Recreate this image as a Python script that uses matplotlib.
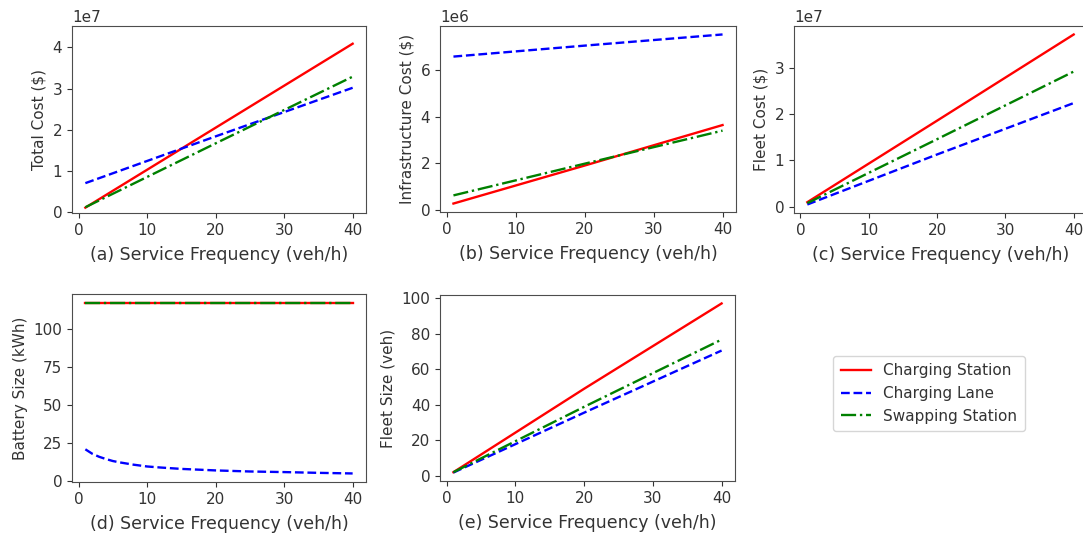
import numpy as np
import matplotlib
matplotlib.use('Agg')
import matplotlib.pyplot as plt

# service frequency (veh/h) where values were read
freq = [1, 20, 40]

# (a) total cost ($)
total_cs = [0.11e7, 2.05e7, 4.09e7]
total_cl = [0.705e7, 1.84e7, 3.02e7]
total_ss = [0.12e7, 1.67e7, 3.29e7]

# (b) infrastructure cost ($)
infra_cs = [0.27e6, 1.90e6, 3.64e6]
infra_cl = [6.58e6, 7.05e6, 7.53e6]
infra_ss = [0.62e6, 1.98e6, 3.40e6]

# (c) fleet cost ($)
fleet_cs = [0.10e7, 1.86e7, 3.72e7]
fleet_cl = [0.05e7, 1.13e7, 2.24e7]
fleet_ss = [0.08e7, 1.46e7, 2.92e7]

# (d) battery size (kWh)
batt_freq = [1, 2, 3, 4, 5, 6, 8, 10, 12, 15, 20, 25, 30, 35, 40]
batt_cs = [117.6] * len(batt_freq)
batt_cl = [20.9, 18.0, 16.0, 14.5, 13.2, 12.3, 10.8, 9.6, 8.9, 8.0, 7.0, 6.3, 5.9, 5.4, 5.0]
batt_ss = [117.6] * len(batt_freq)

# (e) fleet size (veh)
size_cs = [1.9, 49.0, 97.2]
size_cl = [1.7, 35.5, 70.6]
size_ss = [1.9, 38.8, 76.8]

labels = ['Charging Station', 'Charging Lane', 'Swapping Station']
styles = [dict(color='red', ls='-'), dict(color='blue', ls='--'), dict(color='green', ls='-.')]

plt.rcParams.update({
    'font.size': 11,
    'text.color': '0.2',
    'axes.labelcolor': '0.2',
    'xtick.color': '0.2',
    'ytick.color': '0.2',
    'axes.edgecolor': '0.3',
})

W, H = 1083, 535
fig = plt.figure(figsize=(W / 100, H / 100), dpi=100)

def addAxes(left, right, top, bottom):
    return fig.add_axes([left / W, 1 - bottom / H, (right - left) / W, (bottom - top) / H])

panels = [
    (addAxes(72, 366, 26, 213), freq, [total_cs, total_cl, total_ss], 'Total Cost ($)', '(a)'),
    (addAxes(440, 736, 26, 212), freq, [infra_cs, infra_cl, infra_ss], 'Infrastructure Cost ($)', '(b)'),
    (addAxes(794, 1087, 26, 213), freq, [fleet_cs, fleet_cl, fleet_ss], 'Fleet Cost ($)', '(c)'),
    (addAxes(72, 366, 294, 482), batt_freq, [batt_cs, batt_cl, batt_ss], 'Battery Size (kWh)', '(d)'),
    (addAxes(440, 735, 295, 481), freq, [size_cs, size_cl, size_ss], 'Fleet Size (veh)', '(e)'),
]

lines = []
for ax, x, series, ylab, tag in panels:
    lines = []
    for y, st, lab in zip(series, styles, labels):
        ln, = ax.plot(x, y, lw=1.7, label=lab, **st)
        lines.append(ln)
    ax.set_xticks([0, 10, 20, 30, 40])
    ax.set_xlabel('{} Service Frequency (veh/h)'.format(tag), fontsize=12.5, labelpad=6)
    ax.set_ylabel(ylab, fontsize=11)
    ax.tick_params(labelsize=11)

panels[0][0].set_ylim(-0.02e7, 4.52e7)

fig.legend(lines, labels, loc='center', bbox_to_anchor=(929 / W, 1 - 393.5 / H),
           fontsize=11, handlelength=2.0, borderpad=0.5)

fig.savefig('out.png', dpi=100)
